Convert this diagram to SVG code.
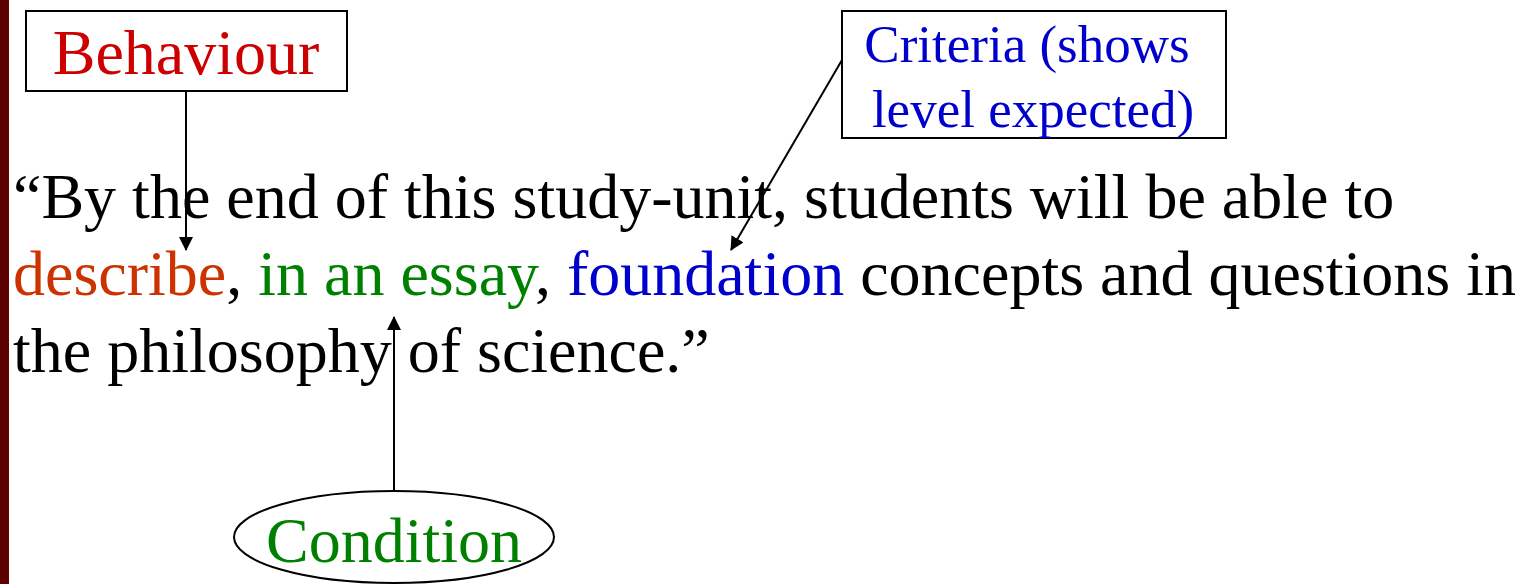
<svg xmlns="http://www.w3.org/2000/svg" width="1538" height="584" viewBox="0 0 1538 584">
<style>
text{font-family:"Liberation Serif","Times New Roman",serif}
.main{font-size:64px;fill:#000}
.box{fill:#fff;stroke:#000;stroke-width:2}
.con{stroke:#000;stroke-width:2;fill:none}
</style>
<defs>
<marker id="ah" markerWidth="14" markerHeight="14" viewBox="0 0 14 14" refX="13" refY="7" orient="auto" markerUnits="userSpaceOnUse">
<path d="M0,0 L14,7 L0,14 Z" fill="#000"/>
</marker>
</defs>
<rect x="0" y="0" width="1538" height="584" fill="#fff"/>
<rect x="0" y="0" width="9" height="584" fill="#5c0000"/>
<g id="sentence">
<text class="main" x="13" y="218">“By the end of this study-unit, students will be able to</text>
<text class="main" x="13" y="295"><tspan fill="#cc3300">describe</tspan>, <tspan fill="#008000">in an essay</tspan>, <tspan fill="#0000cc">foundation</tspan> concepts and questions in</text>
<text class="main" x="13" y="372">the philosophy of science.”</text>
</g>
<g id="behaviour">
<rect class="box" x="26" y="11" width="321" height="80"/>
<text x="186" y="74" font-size="64" fill="#cc0000" text-anchor="middle">Behaviour</text>
</g>
<g id="criteria">
<rect class="box" x="842" y="11" width="384" height="127"/>
<text x="1027" y="62" font-size="53" fill="#0000cc" text-anchor="middle">Criteria (shows</text>
<text x="1033" y="127" font-size="53" fill="#0000cc" text-anchor="middle">level expected)</text>
</g>
<g id="condition">
<ellipse cx="394" cy="537" rx="160" ry="46" fill="#fff" stroke="#000" stroke-width="2"/>
<text x="394" y="562" font-size="64" fill="#008000" text-anchor="middle">Condition</text>
</g>
<g id="connectors">
<line class="con" x1="186" y1="91" x2="186" y2="250" marker-end="url(#ah)"/>
<line class="con" x1="842" y1="60" x2="731" y2="250" marker-end="url(#ah)"/>
<line class="con" x1="394" y1="491" x2="394" y2="317" marker-end="url(#ah)"/>
</g>
</svg>
